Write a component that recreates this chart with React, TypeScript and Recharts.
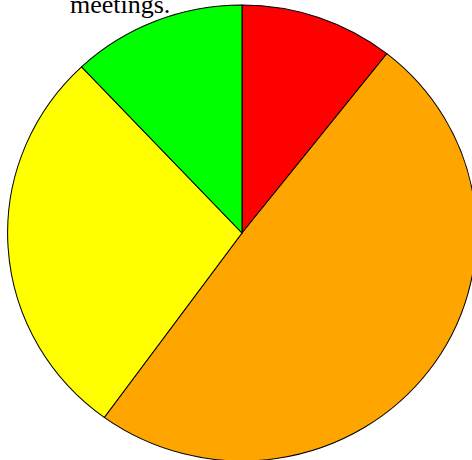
import { PieChart, Pie, Cell } from "recharts"

// Share per category (percent), clockwise from 12 o'clock
const categories = ["Red", "Orange", "Yellow", "Green"]
const shares = [10.6, 49.4, 28.0, 12.0]
const colors = ["#ff0000", "#ffa500", "#ffff00", "#00ff00"]

const data = categories.map((name, i) => ({ name, value: shares[i] }))

export default function App() {
  return (
    <div style={{ position: "fixed", left: 0, top: 0, width: 472, height: 460, overflow: "hidden", background: "#fff" }}>
      {/* pie is drawn slightly wider than tall */}
      <div style={{ transform: "scaleX(1.028)", transformOrigin: "242px 233px" }}>
        <PieChart width={472} height={470} margin={{ top: 0, right: 0, bottom: 0, left: 0 }}>
          <Pie
            data={data}
            dataKey="value"
            nameKey="name"
            cx={242}
            cy={233}
            outerRadius={228}
            startAngle={90}
            endAngle={-270}
            stroke="#000"
            strokeWidth={1}
            isAnimationActive={false}
          >
            {data.map((d, i) => (
              <Cell key={d.name} fill={colors[i]} />
            ))}
          </Pie>
        </PieChart>
      </div>
      <div
        style={{
          position: "absolute",
          left: 70,
          top: -10,
          fontFamily: "'Liberation Serif', serif",
          fontSize: 26,
          lineHeight: "30px",
          color: "#000",
        }}
      >
        meetings.
      </div>
    </div>
  )
}
